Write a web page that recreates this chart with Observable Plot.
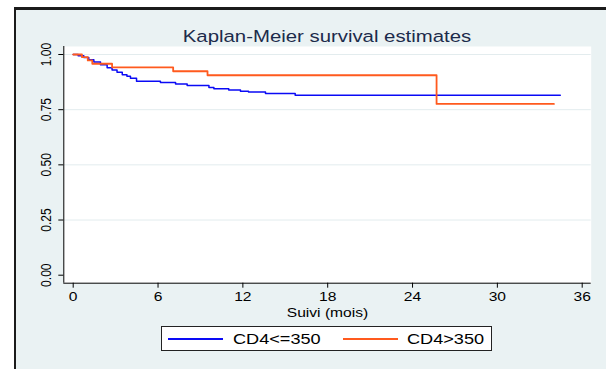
<!DOCTYPE html>
<html>
<head>
<meta charset="utf-8">
<script src="https://cdn.jsdelivr.net/npm/d3@7"></script>
<script src="https://cdn.jsdelivr.net/npm/@observablehq/plot@0.6"></script>
<style>
html,body{margin:0;padding:0;background:#fff;width:606px;height:369px;overflow:hidden;font-family:"Liberation Sans",Arial,sans-serif;}
#frame{position:absolute;left:14px;top:7px;width:590px;height:359px;border-left:2px solid #1b1b1b;border-top:3px solid #1b1b1b;background:#eaf2f3;}
#chart{position:absolute;left:0;top:0;}
#title{position:absolute;left:127px;width:400px;top:28px;text-align:center;font-size:16.3px;line-height:16.3px;color:#1c2b4b;transform:scaleX(1.25);transform-origin:center;white-space:nowrap;}
#legendbox{position:absolute;left:161px;top:326px;width:329px;height:23px;border:1px solid #222;background:#fff;}
.sw{position:absolute;height:0;border-top:2px solid;}
.lt{position:absolute;font-size:14.5px;line-height:14.5px;color:#000;white-space:nowrap;transform:scaleX(1.25);transform-origin:left center;}
</style>
</head>
<body>
<div id="frame"></div>
<div id="title"></div>
<div id="chart"></div>
<div id="legendbox"></div>
<div id="legend"></div>
<script>
// ---- data ----
const titleText = "Kaplan-Meier survival estimates";
const xLabel = "Suivi (mois)";
const seriesNames = ["CD4<=350", "CD4>350"];
const seriesColors = ["#0a0af5", "#ff5a1e"];

const blueTime = [0, 0.35, 0.75, 1.1, 1.46, 1.93, 2.4, 2.75, 3.1, 3.47, 3.8, 4.05, 4.48, 6.17, 7.24, 8.06, 9.6, 9.95, 11.0, 11.83, 12.4, 13.6, 15.7, 34.45];
const blueSurv = [1.0, 0.994, 0.986, 0.976, 0.966, 0.954, 0.940, 0.930, 0.920, 0.908, 0.902, 0.892, 0.879, 0.873, 0.866, 0.860, 0.851, 0.845, 0.839, 0.833, 0.830, 0.823, 0.815, 0.815];

const orangeTime = [0, 0.62, 1.03, 1.35, 2.75, 7.07, 9.5, 25.7, 34.0];
const orangeSurv = [1.0, 0.988, 0.973, 0.958, 0.942, 0.924, 0.906, 0.776, 0.776];

const xTicks = [0, 6, 12, 18, 24, 30, 36];
const yTicks = [0, 0.25, 0.5, 0.75, 1];
const yGridTicks = [0.25, 0.5, 0.75, 1];
const xMin = [0];
const yMin = [0];

// ---- build table ----
const rows = [
  ...blueTime.map((t, i) => ({t, s: blueSurv[i], g: seriesNames[0]})),
  ...orangeTime.map((t, i) => ({t, s: orangeSurv[i], g: seriesNames[1]}))
];

const STRETCH = 1.25;
const INSET_L = 9.4, INSET_B = 8;

const chart = Plot.plot({
  width: 606,
  height: 340,
  marginTop: 46,
  marginLeft: 63.3,
  marginRight: 15.3,
  marginBottom: 57.3,
  style: {background: "transparent", fontFamily: "'Liberation Sans', Arial, sans-serif", fontSize: "12px", color: "#000", overflow: "visible"},
  x: {domain: [0, 36], insetLeft: INSET_L, insetRight: 9},
  y: {domain: [0, 1], insetTop: 8, insetBottom: INSET_B},
  color: {domain: seriesNames, range: seriesColors},
  marks: [
    Plot.frame({fill: "white", stroke: null}),
    Plot.gridY(yGridTicks, {stroke: "#e3ecee", strokeOpacity: 1, strokeWidth: 1}),
    Plot.line(rows.filter(d => d.g === seriesNames[0]), {x: "t", y: "s", stroke: "g", curve: "step-after", strokeWidth: 1.5}),
    Plot.line(rows.filter(d => d.g === seriesNames[1]), {x: "t", y: "s", stroke: "g", curve: "step-after", strokeWidth: 1.8}),
    Plot.ruleX(xMin, {dx: -INSET_L, stroke: "#000", strokeWidth: 1}),
    Plot.ruleY(yMin, {dy: INSET_B, stroke: "#000", strokeWidth: 1}),
    Plot.axisX({ticks: xTicks, tickSize: 5, tickPadding: 4, fontSize: 12.5, label: xLabel, labelAnchor: "center", labelArrow: "none", labelOffset: 34}),
    Plot.axisY({ticks: yTicks, tickFormat: d3.format(".2f"), tickSize: 5, tickPadding: 9, tickRotate: -90, fontSize: 12, label: null})
  ]
});

document.getElementById("chart").appendChild(chart);

// horizontally stretch every text around its own centre (the reference is stretched)
chart.querySelectorAll("text").forEach(t => {
  const g = document.createElementNS("http://www.w3.org/2000/svg", "g");
  t.parentNode.insertBefore(g, t);
  g.appendChild(t);
  const b = g.getBBox();
  const cx = b.x + b.width / 2;
  g.setAttribute("transform", `translate(${cx},0) scale(${STRETCH},1) translate(${-cx},0)`);
});

document.getElementById("title").textContent = titleText;

// legend
const legend = document.getElementById("legend");
const swX = [168.3, 343];
const txX = [232.7, 407.3];
seriesNames.forEach((name, i) => {
  const sw = document.createElement("div");
  sw.className = "sw";
  sw.style.left = swX[i] + "px";
  sw.style.top = "338px";
  sw.style.width = "54.5px";
  sw.style.borderTopColor = seriesColors[i];
  legend.appendChild(sw);
  const tx = document.createElement("div");
  tx.className = "lt";
  tx.style.left = txX[i] + "px";
  tx.style.top = "331.7px";
  tx.textContent = name;
  legend.appendChild(tx);
});
</script>
</body>
</html>
